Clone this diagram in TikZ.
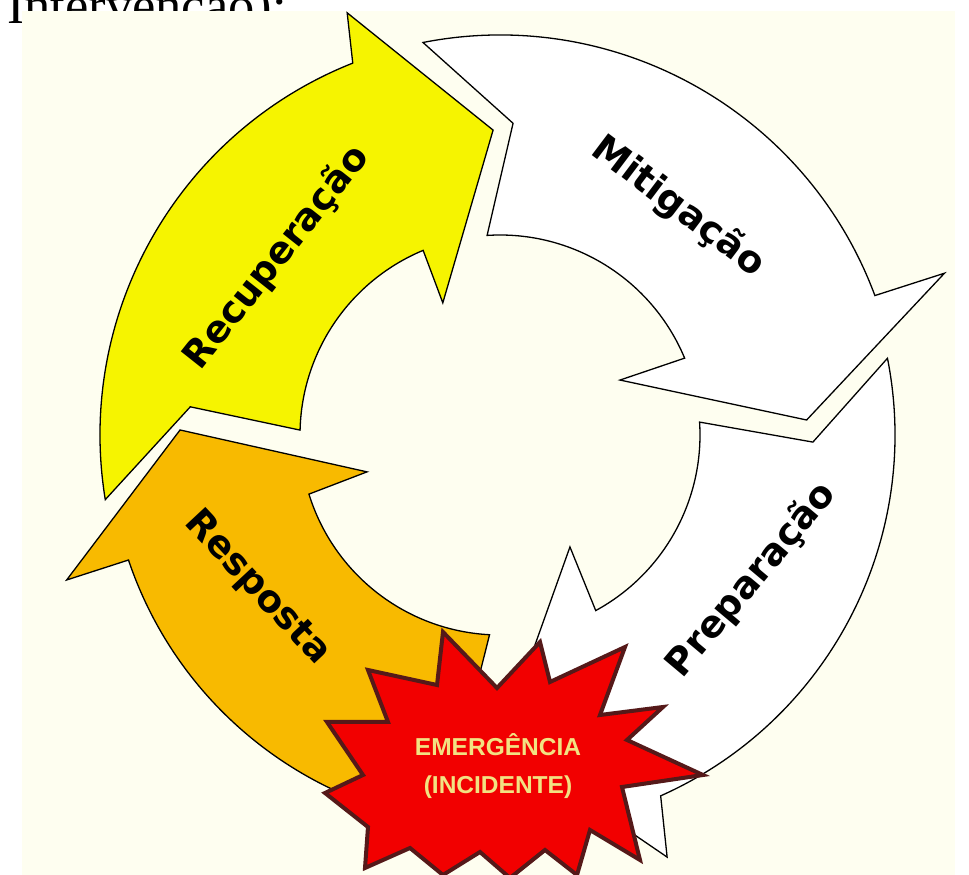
\documentclass[tikz,border=0pt]{standalone}
\usepackage{fontspec}
\setmainfont{Liberation Serif}
\setsansfont{Liberation Sans}
\newfontfamily\rotulofont{DejaVu Sans}

\definecolor{creme}{RGB}{254,254,240}
\definecolor{amarelo}{RGB}{246,244,0}
\definecolor{laranja}{RGB}{248,186,0}
\definecolor{vermelho}{RGB}{242,0,0}
\definecolor{bordo}{RGB}{85,25,25}
\definecolor{textoemerg}{RGB}{242,226,130}

\begin{document}
\begin{tikzpicture}[x=1pt, y=1pt, every node/.style={inner sep=0pt, outer sep=0pt},
  seta/.style={draw=black, line width=1.3pt, line join=miter},
  rotulo/.style={font=\rotulofont\bfseries\fontsize{37.5}{37.5}\selectfont}]
\useasboundingbox (0,0) rectangle (969,875);
\node[anchor=base west, font=\fontsize{52.5}{52.5}\selectfont] (titulo) at (7,851) {Intervenção):};
\fill[creme] (22,0) rectangle (955,864);

\begin{scope}[shift={(500,440)}]
% Recuperacao
\draw[seta, fill=amarelo] (178.6:200) -- (174.8:311) -- (189.3:400) arc[start angle=189.3, end angle=111.6, radius=400]
  -- (109.9:449) -- (91.3:305) -- (113.4:144) -- (112.6:200) arc[start angle=112.6, end angle=178.6, radius=200] -- cycle;
% Mitigacao
\draw[seta, fill=white] (93.7:200) -- (87.6:312) -- (101.1:400) arc[start angle=101.1, end angle=20.4, radius=400]
  -- (20:473) -- (2.8:307) -- (24.6:132) -- (22.6:200) arc[start angle=22.6, end angle=93.7, radius=200] -- cycle;
% Preparacao
\draw[seta, fill=white] (3.7:200) -- (-1.3:313) -- (11.2:395) arc[start angle=11.2, end angle=-66, radius=395]
  -- (-68.4:454) -- (-90:308) -- (-58:132) -- (-61.4:200) arc[start angle=-61.4, end angle=3.7, radius=200] -- cycle;
% Resposta
\draw[seta, fill=laranja] (267:200) -- (263:312) -- (277:392) arc[start angle=277, end angle=198.6, radius=392]
  -- (198.5:457) -- (179.1:320) -- (195.5:138) -- (197.2:200) arc[start angle=197.2, end angle=267, radius=200] -- cycle;
\end{scope}

\node[rotulo, rotate=51.6] (rec) at (277,617) {Recuperação};
\node[rotulo, rotate=-37] (mit) at (678,668) {Mitigação};
\node[rotulo, rotate=50] (prep) at (752,295) {Preparação};
\node[rotulo, rotate=-47] (resp) at (257,287) {Resposta};

% explosao
\draw[fill=vermelho, draw=bordo, line width=4pt, line join=miter]
  (443,243) -- (497,187) -- (540,233) -- (550,193) -- (625,228) -- (600,160) -- (663,168) -- (627,135)
  -- (703,100) -- (622,88) -- (640,15) -- (590,45) -- (577,0) -- (545,25) -- (510,-3) -- (480,23)
  -- (443,0) -- (410,27) -- (365,7) -- (368,48) -- (325,82) -- (363,100) -- (327,153) -- (388,153)
  -- (368,205) -- (437,190) -- cycle;
\node[align=center, text=textoemerg, font=\sffamily\bfseries\fontsize{24.5}{38}\selectfont] (emerg) at (498,109) {EMERGÊNCIA\\(INCIDENTE)};
\end{tikzpicture}
\end{document}
